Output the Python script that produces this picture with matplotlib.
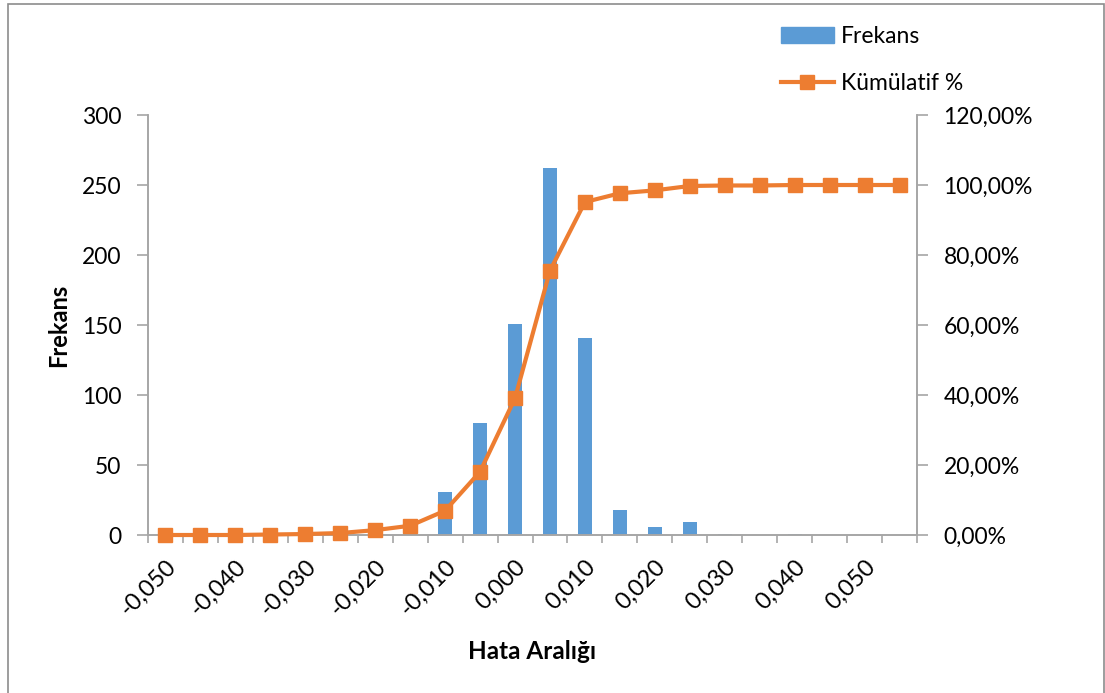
import matplotlib.pyplot as plt
import matplotlib.ticker as mtick
from matplotlib.patches import Rectangle
from matplotlib.lines import Line2D
import numpy as np

plt.rcParams['font.family'] = ['Lato', 'DejaVu Sans']

# histogram bins (upper edges) and counts
bins = [-0.050, -0.045, -0.040, -0.035, -0.030, -0.025, -0.020, -0.015,
        -0.010, -0.005, 0.000, 0.005, 0.010, 0.015, 0.020, 0.025,
        0.030, 0.035, 0.040, 0.045, 0.050, 0.055]
frekans = [0, 0, 0, 1, 1, 2, 6, 9, 31, 80, 151, 262, 141, 18, 6, 9,
           1, 0, 1, 0, 0, 0]
kumulatif = np.cumsum(frekans) / np.sum(frekans) * 100

bar_c = '#5B9BD5'
line_c = '#ED7D31'
axis_c = '#A6A6A6'

fig = plt.figure(figsize=(11.05, 6.93), dpi=100)
ax = fig.add_axes([148/1105, 1-535/693, (917-148)/1105, 420/693])
ax2 = ax.twinx()

x = np.arange(len(bins))
ax.bar(x, frekans, width=0.4, color=bar_c, zorder=2)
ax2.plot(x, kumulatif, color=line_c, lw=3, marker='s', ms=10,
         zorder=3, clip_on=False)

ax.set_xlim(-0.5, len(bins) - 0.5)
ax.set_ylim(0, 300)
ax2.set_ylim(0, 120)
ax.set_yticks(range(0, 301, 50))
ax2.set_yticks(range(0, 121, 20))
ax2.yaxis.set_major_formatter(
    mtick.FuncFormatter(lambda v, p: f'{v:.2f}%'.replace('.', ',')))

# every other bin gets a label, tick marks sit between bins
lbls = [f'{b:.3f}'.replace('.', ',') for b in bins]
ax.set_xticks(x[::2])
ax.set_xticklabels(lbls[::2], rotation=45, ha='right', va='top',
                   rotation_mode='anchor')
ax.set_xticks(np.arange(-0.5, len(bins)), minor=True)
ax.tick_params(axis='x', which='major', length=0, pad=15, labelsize=17)
ax.tick_params(axis='x', which='minor', length=6, color=axis_c, width=1.2)
ax.tick_params(axis='y', length=8, color=axis_c, width=1.2, pad=11,
               labelsize=16.5)
ax2.tick_params(axis='y', length=8, color=axis_c, width=1.2, pad=11,
                labelsize=16.5)

for a in (ax, ax2):
    a.spines['top'].set_visible(False)
    for s in ('left', 'right', 'bottom'):
        a.spines[s].set_color(axis_c)
        a.spines[s].set_linewidth(1.2)

ax.set_ylabel('Frekans', fontsize=17, fontweight='bold')
ax.yaxis.set_label_coords(-0.101, 0.5)
ax.set_xlabel('Hata Aralığı', fontsize=17.5, fontweight='bold')
ax.xaxis.set_label_coords(0.5, -0.25)

handles = [Rectangle((0, 0), 1, 1, color=bar_c),
           Line2D([], [], color=line_c, lw=3, marker='s', ms=10)]
fig.legend(handles, ['Frekans', 'Kümülatif %'], loc='upper left',
           bbox_to_anchor=(781/1105, 1-26/693), frameon=False, fontsize=16.5,
           handlelength=2.3, handletextpad=0.3, labelspacing=1.15,
           borderpad=0, borderaxespad=0)

# chart border
fig.patches.append(Rectangle((8/1105, -0.01), (1104-8)/1105, 1-4/693+0.01,
                             transform=fig.transFigure, fill=False,
                             edgecolor='#8C8C8C', lw=1.2))

plt.savefig('out.png')
